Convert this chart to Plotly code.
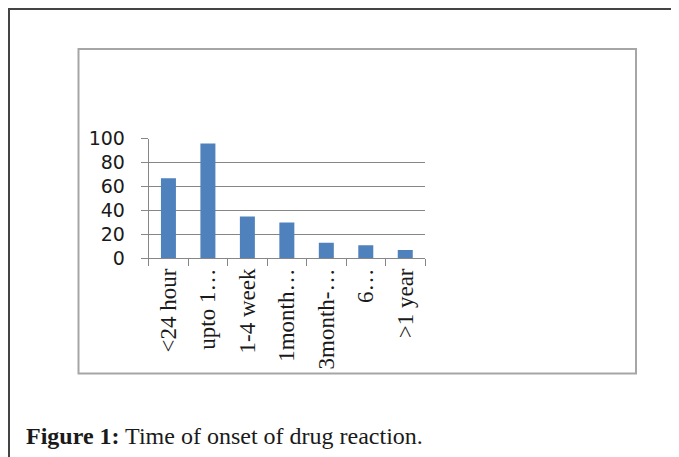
import plotly.graph_objects as go

categories = ["<24 hour", "upto 1…", "1-4 week", "1month…", "3month-…", "6…", ">1 year"]
values = [67, 96, 35, 30, 13, 11, 7]
y_ticks = [0, 20, 40, 60, 80, 100]
caption_bold = "Figure 1:"
caption_text = "Time of onset of drug reaction."

W, H = 679, 457
OFF = 8  # browser body margin

def px_x(p):
    return (p - OFF) / W

def px_y(p):
    return 1 - (p - OFF) / H

fig = go.Figure(go.Bar(x=categories, y=values, marker=dict(color="#4F81BD", line=dict(width=0))))

fig.update_layout(
    width=W, height=H,
    margin=dict(l=0, r=0, t=0, b=0),
    paper_bgcolor="white", plot_bgcolor="white",
    bargap=0.62,
    showlegend=False,
    xaxis=dict(
        domain=[px_x(148.7), px_x(425)],
        type="category",
        tickson="boundaries",
        ticks="outside", ticklen=7, tickcolor="#868686", tickwidth=1,
        showline=True, linecolor="#868686", linewidth=1,
        showgrid=False,
        tickangle=-90,
        tickfont=dict(family="Liberation Serif", size=23, color="#1a1a1a"),
        automargin=False,
        anchor="y",
    ),
    yaxis=dict(
        domain=[px_y(258.3), px_y(138.7)],
        range=[0, 100],
        tickvals=y_ticks,
        ticks="outside", ticklen=7, tickcolor="#868686", tickwidth=1,
        showline=True, linecolor="#868686", linewidth=1,
        showgrid=True, gridcolor="#868686", gridwidth=1,
        zeroline=False,
        tickfont=dict(family="DejaVu Sans", size=19, color="#1a1a1a"),
        ticklabelstandoff=12,
        automargin=False,
        anchor="x",
    ),
    shapes=[
        dict(type="rect", xref="paper", yref="paper",
             x0=px_x(9), x1=px_x(700), y0=px_y(480), y1=px_y(9),
             line=dict(color="#444444", width=2), fillcolor="rgba(0,0,0,0)"),
        dict(type="rect", xref="paper", yref="paper",
             x0=px_x(78.5), x1=px_x(636), y0=px_y(373.5), y1=px_y(49),
             line=dict(color="#a6a6a6", width=2), fillcolor="rgba(0,0,0,0)"),
    ],
    annotations=[
        dict(xref="paper", yref="paper", x=px_x(24), y=px_y(436),
             xanchor="left", yanchor="middle", showarrow=False,
             text=f"<b>{caption_bold}</b> {caption_text}",
             font=dict(family="Liberation Serif", size=24, color="#1a1a1a")),
    ],
)

fig.write_html("out.html")
